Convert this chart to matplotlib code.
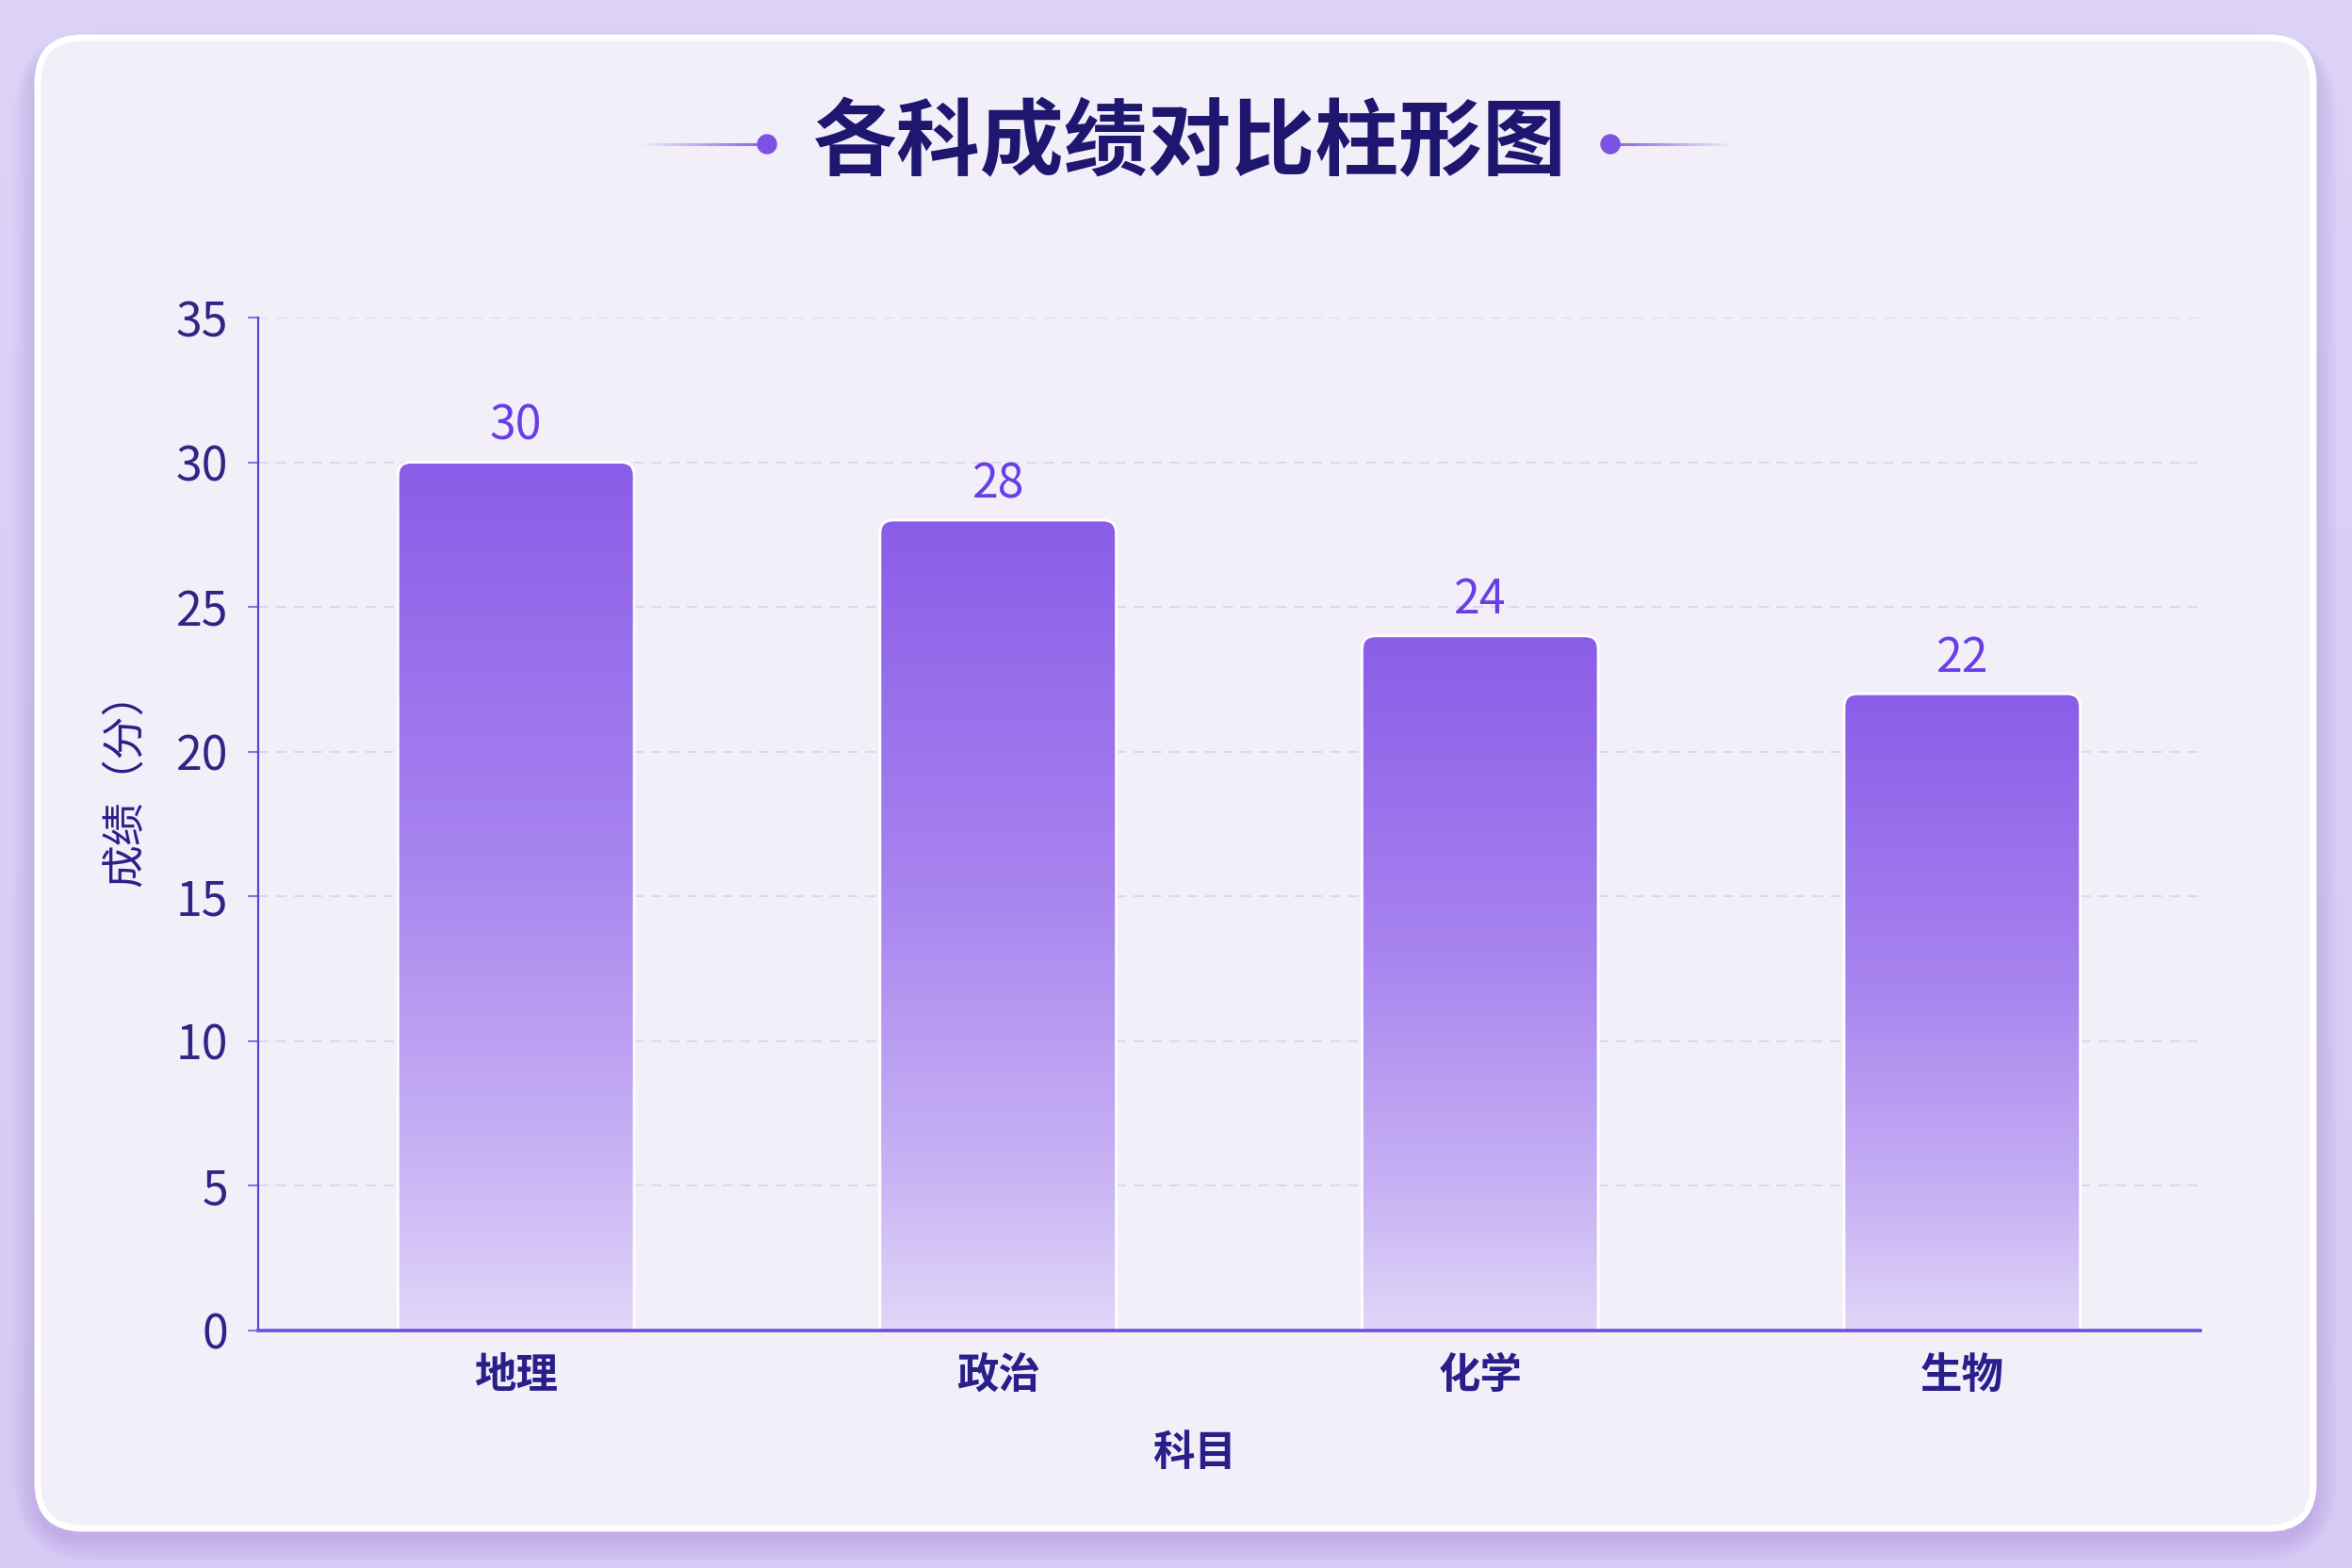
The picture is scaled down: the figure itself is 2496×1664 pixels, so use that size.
import numpy as np
import matplotlib
matplotlib.use("Agg")
import matplotlib.pyplot as plt
from matplotlib.patches import FancyBboxPatch, Circle
from matplotlib.colors import LinearSegmentedColormap, to_rgba
from matplotlib.collections import LineCollection

plt.rcParams['font.family'] = ['Noto Sans CJK SC', 'DejaVu Sans']

# ---- data ----
subjects = ["地理", "政治", "化学", "生物"]
scores = [30, 28, 24, 22]
yticks = [0, 5, 10, 15, 20, 25, 30, 35]
title = "各科成绩对比柱形图"
xlabel = "科目"
ylabel = "成绩（分）"

W, H = 2496, 1664
fig = plt.figure(figsize=(W / 100, H / 100), dpi=100)
fig.patch.set_facecolor("#dacef5")

# ---- background layer in pixel coordinates ----
bg = fig.add_axes([0, 0, 1, 1], zorder=0)
bg.set_xlim(0, W)
bg.set_ylim(H, 0)
bg.axis("off")
grad = np.linspace(0, 1, 256)[:, None]
bg_cmap = LinearSegmentedColormap.from_list("bg", ["#ddd2f7", "#d6c9f4"])
bg.imshow(grad, extent=(0, W, H, 0), cmap=bg_cmap, aspect="auto", zorder=0)

# card shadow
for k in range(14):
    grow = 4 + k * 3
    sh = FancyBboxPatch((40 - grow * 0.6, 40 + 10 - grow * 0.4), 2415 + grow * 1.2, 1582 + grow,
                        boxstyle="round,pad=0,rounding_size=%d" % (48 + grow),
                        facecolor="#a98ae8", edgecolor="none", alpha=0.028, zorder=1)
    bg.add_patch(sh)
card = FancyBboxPatch((40, 40), 2415, 1582, boxstyle="round,pad=0,rounding_size=48",
                      facecolor="#f3eff9", edgecolor="white", linewidth=5, zorder=2)
bg.add_patch(card)

# title decorations
deco_col = "#7b52e3"
def fade_line(x0, x1, y, fade_to_left):
    xs = np.linspace(x0, x1, 60)
    segs = [[(xs[i], y), (xs[i + 1], y)] for i in range(len(xs) - 1)]
    t = np.linspace(0, 1, len(segs))
    alphas = t if fade_to_left else 1 - t
    base = np.array(to_rgba(deco_col))
    cols = np.tile(base, (len(segs), 1))
    cols[:, 3] = alphas
    bg.add_collection(LineCollection(segs, colors=cols, linewidths=2.2, zorder=3))

fade_line(679, 812, 153, True)
fade_line(1711, 1838, 153, False)
bg.add_patch(Circle((814, 153), 10, color=deco_col, zorder=4))
bg.add_patch(Circle((1709, 153), 10, color=deco_col, zorder=4))

fig.text(1263 / W, 1 - 153 / H, title, ha="center", va="center",
         fontsize=64, fontweight="bold", color="#1f1670", zorder=5)

# ---- main axes ----
ax_l, ax_r, ax_t, ax_b = 274, 2335, 337, 1412
ax = fig.add_axes([ax_l / W, 1 - ax_b / H, (ax_r - ax_l) / W, (ax_b - ax_t) / H], zorder=3)
ax.patch.set_alpha(0)
x = np.arange(len(subjects))
ax.set_xlim(-0.535, 3.494)
ax.set_ylim(0, 35)

for s in ["top", "right"]:
    ax.spines[s].set_visible(False)
ax.spines["left"].set_color("#5b45cc")
ax.spines["left"].set_linewidth(1.6)
ax.spines["bottom"].set_color("#6a4fe0")
ax.spines["bottom"].set_linewidth(2.6)
ax.spines["bottom"].set_zorder(6)

ax.set_yticks(yticks)
ax.set_yticklabels([str(v) for v in yticks])
ax.tick_params(axis="y", length=8, width=1.5, color="#8a74e0", pad=15,
               labelsize=36, labelcolor="#2e2585")
ax.set_xticks(x)
ax.set_xticklabels(subjects)
ax.tick_params(axis="x", length=0, pad=18, labelsize=32, labelcolor="#2a1f8a")
for lab in ax.get_xticklabels():
    lab.set_fontweight("bold")

ax.yaxis.grid(True, linestyle=(0, (6, 4.5)), linewidth=1.3, color="#dcd3f3")
ax.set_axisbelow(True)

# bars with vertical gradient and rounded tops
bar_w = 0.49
bars = ax.bar(x, scores, width=bar_w, color="none", edgecolor="none")
fig.canvas.draw()
p0 = ax.transData.transform((0, 0))
p1 = ax.transData.transform((1, 1))
px_x = p1[0] - p0[0]
px_y = p1[1] - p0[1]
r_px = 14
rs = r_px / px_x
m = px_x / px_y

bar_cmap = LinearSegmentedColormap.from_list(
    "bar", [(0.0, "#8a5de8"), (0.45, "#a783ef"), (0.8, "#c8b2f4"), (1.0, "#e0d6f8")])
gcol = np.linspace(0, 1, 256)[:, None]
for rect, v in zip(bars, scores):
    x0 = rect.get_x()
    w = rect.get_width()
    patch = FancyBboxPatch((x0, -2), w, v + 2,
                           boxstyle="round,pad=0,rounding_size=%f" % rs,
                           mutation_aspect=m, facecolor="none", edgecolor="white",
                           linewidth=2, zorder=3)
    ax.add_patch(patch)
    im = ax.imshow(gcol, extent=(x0, x0 + w, 0, v), cmap=bar_cmap, aspect="auto",
                   origin="upper", zorder=2)
    im.set_clip_path(patch)
    ax.annotate(str(v), xy=(rect.get_x() + w / 2, v), xytext=(0, 17),
                textcoords="offset points", ha="center", va="baseline",
                fontsize=36, color="#6a3ee6", zorder=5)

ax.set_xlim(-0.535, 3.494)
ax.set_ylim(0, 35)

ax.set_xlabel(xlabel, fontsize=32, fontweight="bold", color="#2a1f8a")
ax.xaxis.set_label_coords((1268 - ax_l) / (ax_r - ax_l), (ax_b - 1542) / (ax_b - ax_t))
ax.xaxis.label.set_va("center")
ax.set_ylabel(ylabel, fontsize=33, fontweight="medium", color="#2a1f8a")
ax.yaxis.set_label_coords((133 - ax_l) / (ax_r - ax_l), (ax_b - 826) / (ax_b - ax_t))
ax.yaxis.label.set_va("center")

fig.savefig("out.png", dpi=100, facecolor=fig.get_facecolor())
